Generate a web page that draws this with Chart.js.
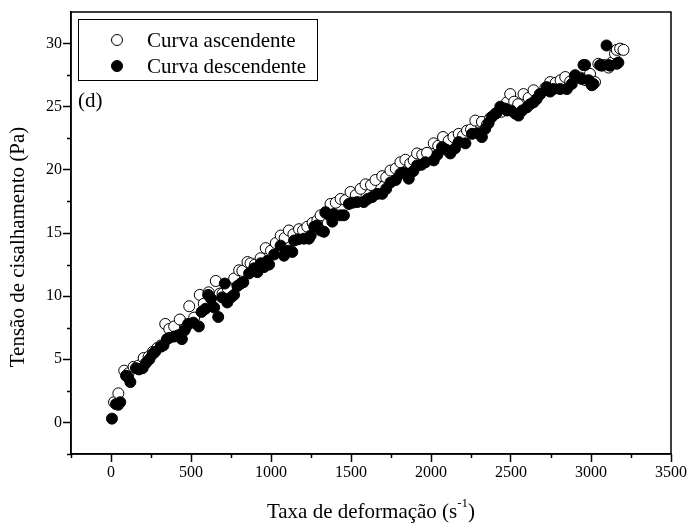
<!DOCTYPE html>
<html>
<head>
<meta charset="utf-8">
<script src="https://cdn.jsdelivr.net/npm/chart.js@4.4.1/dist/chart.umd.min.js"></script>
<style>
    body { margin: 0; background: #fff; }
    canvas { display: block; }
</style>
</head>
<body>
<canvas id="flowChart" width="690" height="524"></canvas>
<script>
/****************************** Data ********************************/
// curva ascendente (open circles)
const ascX = [19, 46, 83, 110, 141, 172, 204, 235, 262, 290, 312, 339, 364, 395, 430, 467, 489, 520, 555, 580,
    610, 655, 680, 697, 730, 770, 801, 821, 853, 872, 900, 935, 967, 1000, 1030, 1061, 1085, 1112, 1140, 1175,
    1200, 1227, 1260, 1290, 1310, 1340, 1372, 1405, 1435, 1465, 1497, 1530, 1560, 1591, 1625, 1653, 1695, 1720, 1747, 1780,
    1809, 1840, 1870, 1892, 1913, 1945, 1975, 2017, 2045, 2075, 2110, 2140, 2173, 2200, 2225, 2250, 2277, 2318, 2350, 2370,
    2402, 2440, 2475, 2495, 2520, 2545, 2578, 2610, 2641, 2680, 2715, 2745, 2780, 2810, 2839, 2870, 2900, 2935, 2965, 2994,
    3025, 3046, 3080, 3110, 3130, 3150, 3161, 3182, 3203];
const ascY = [1.6, 2.3, 4.1, 3.9, 4.4, 4.5, 5.1, 5.2, 5.6, 5.9, 6.1, 7.8, 7.4, 7.6, 8.15, 7.5, 9.2, 8.3, 10.1, 9.4,
    10.3, 11.2, 10.2, 10.2, 10.6, 11.4, 12.05, 12.0, 12.7, 12.6, 12.5, 13.0, 13.8, 13.6, 14.2, 14.8, 14.6, 15.2, 14.9, 15.3,
    15.2, 15.5, 15.8, 16.0, 16.4, 16.6, 17.3, 17.4, 17.7, 17.6, 18.25, 18.0, 18.5, 18.85, 18.8, 19.2, 19.5, 19.4, 19.95, 20.1,
    20.6, 20.8, 20.5, 20.75, 21.3, 21.2, 21.35, 22.1, 21.9, 22.6, 22.3, 22.6, 22.85, 22.7, 23.1, 23.2, 23.9, 23.8, 23.6, 24.1,
    24.45, 24.6, 25.35, 26.0, 25.4, 25.2, 26.0, 25.7, 26.3, 26.0, 26.5, 26.95, 26.9, 27.1, 27.35, 27.0, 27.4, 27.3, 27.1, 27.6,
    26.95, 28.4, 28.3, 28.1, 28.5, 29.2, 29.5, 29.6, 29.5];

// curva descendente (filled circles)
const descX = [6, 31, 45, 58, 94, 105, 121, 156, 175, 198, 218, 240, 260, 276, 312, 328, 350, 364, 395, 420,
    443, 460, 482, 515, 549, 566, 590, 607, 625, 645, 670, 695, 711, 727, 750, 769, 790, 811, 827, 863,
    894, 915, 936, 956, 978, 988, 1020, 1060, 1081, 1110, 1133, 1144, 1170, 1206, 1237, 1248, 1270, 1289, 1310, 1331,
    1341, 1365, 1383, 1393, 1435, 1456, 1487, 1510, 1539, 1580, 1605, 1632, 1665, 1695, 1720, 1747, 1780, 1809, 1830, 1861,
    1890, 1913, 1940, 1965, 2017, 2040, 2069, 2095, 2121, 2150, 2173, 2215, 2256, 2290, 2318, 2339, 2360, 2381, 2410, 2433,
    2464, 2475, 2500, 2527, 2547, 2570, 2599, 2620, 2641, 2660, 2683, 2724, 2745, 2766, 2807, 2849, 2880, 2901, 2942, 2953,
    2963, 2985, 3005, 3015, 3057, 3067, 3097, 3109, 3119, 3161, 3171];
const descY = [0.3, 1.45, 1.4, 1.6, 3.7, 3.6, 3.2, 4.3, 4.2, 4.3, 4.7, 5.0, 5.4, 5.6, 6.0, 6.1, 6.6, 6.7, 6.8, 6.9,
    6.6, 7.3, 7.8, 7.9, 7.6, 8.75, 9.0, 10.1, 9.8, 9.1, 8.35, 9.9, 11.0, 9.5, 9.9, 10.1, 10.8, 11.0, 11.1, 11.8,
    12.2, 11.9, 12.6, 12.3, 12.8, 12.5, 13.3, 14.0, 13.2, 13.6, 13.5, 14.4, 14.5, 14.55, 14.55, 14.8, 15.5, 15.6, 15.2, 15.1,
    16.65, 16.4, 15.9, 16.5, 16.4, 16.4, 17.3, 17.4, 17.45, 17.45, 17.7, 17.85, 18.1, 18.1, 18.5, 19.0, 19.2, 19.7, 19.8, 19.3,
    19.9, 20.35, 20.4, 20.6, 20.75, 21.2, 21.8, 21.6, 21.3, 21.7, 22.2, 22.1, 22.85, 22.9, 22.6, 23.25, 23.7, 24.2, 24.5, 25.0,
    24.85, 24.7, 24.7, 24.45, 24.3, 24.7, 24.95, 25.2, 25.35, 25.6, 26.0, 26.55, 26.2, 26.4, 26.4, 26.4, 26.8, 27.5, 27.2, 28.3,
    28.3, 27.1, 26.7, 26.8, 28.3, 28.25, 29.85, 28.3, 28.25, 28.4, 28.5];

// axis ticks
const xTicks = [0, 500, 1000, 1500, 2000, 2500, 3000, 3500];
const xMinorTicks = [-250, 250, 750, 1250, 1750, 2250, 2750, 3250];
const yTicks = [0, 5, 10, 15, 20, 25, 30];
const yMinorTicks = [-2.5, 2.5, 7.5, 12.5, 17.5, 22.5, 27.5];

const toPoints = (xs, ys) => xs.map((x, i) => ({ x: x, y: ys[i] }));

/****************************** Frame, legend, titles ********************************/
const SERIF = '"Liberation Serif", "Times New Roman", serif';

const decorPlugin = {
    id: 'decor',
    afterDraw(chart) {
        const { ctx, chartArea: a, scales } = chart;
        const xs = scales.x, ys = scales.y;
        ctx.save();

        // box round the plot
        ctx.strokeStyle = '#000';
        ctx.lineWidth = 1.5;
        ctx.strokeRect(a.left, a.top, a.right - a.left, a.bottom - a.top);

        // minor ticks (half length)
        ctx.lineWidth = 1.5;
        ctx.beginPath();
        xMinorTicks.forEach(v => {
            const px = Math.round(xs.getPixelForValue(v)) + 0.5;
            ctx.moveTo(px, a.bottom);
            ctx.lineTo(px, a.bottom + 4);
        });
        yMinorTicks.forEach(v => {
            const py = Math.round(ys.getPixelForValue(v)) + 0.5;
            ctx.moveTo(a.left, py);
            ctx.lineTo(a.left - 4, py);
        });
        ctx.stroke();

        // legend
        ctx.lineWidth = 1;
        ctx.strokeRect(78.5, 19.5, 239, 61);
        ctx.font = '21px ' + SERIF;
        ctx.fillStyle = '#000';
        ctx.textBaseline = 'middle';
        ctx.textAlign = 'left';
        const rows = [40, 66];
        chart.data.datasets.forEach((ds, i) => {
            ctx.beginPath();
            ctx.arc(117, rows[i], 5.5, 0, Math.PI * 2);
            ctx.fillStyle = ds.backgroundColor;
            ctx.fill();
            ctx.strokeStyle = ds.borderColor;
            ctx.stroke();
            ctx.fillStyle = '#000';
            ctx.fillText(ds.label, 147, rows[i] + 1);
        });

        // panel letter
        ctx.fillText('(d)', 78, 101);

        // x title with superscript
        const main = 'Taxa de deformação (s';
        const sup = '-1';
        const tail = ')';
        ctx.font = '21px ' + SERIF;
        const wMain = ctx.measureText(main).width;
        const wTail = ctx.measureText(tail).width;
        ctx.font = '13px ' + SERIF;
        const wSup = ctx.measureText(sup).width;
        let tx = (a.left + a.right) / 2 - (wMain + wSup + wTail) / 2;
        const ty = 512;
        ctx.font = '21px ' + SERIF;
        ctx.fillText(main, tx, ty);
        tx += wMain;
        ctx.font = '13px ' + SERIF;
        ctx.fillText(sup, tx, ty - 8);
        tx += wSup;
        ctx.font = '21px ' + SERIF;
        ctx.fillText(tail, tx, ty);

        // y title
        ctx.translate(18, 247);
        ctx.rotate(-Math.PI / 2);
        ctx.textAlign = 'center';
        ctx.fillText('Tensão de cisalhamento (Pa)', 0, 0);

        ctx.restore();
    }
};

/****************************** Flow curve chart ********************************/
const axisStyle = {
    border: { color: '#000', width: 1.5 },
    grid: {
        drawOnChartArea: false,
        drawTicks: true,
        tickLength: 8,
        tickColor: '#000',
        tickWidth: 1.5
    },
    ticks: {
        color: '#000',
        font: { family: SERIF, size: 16 },
        padding: 1,
        maxRotation: 0,
        autoSkip: false,
        callback: v => String(v)
    }
};

new Chart(document.getElementById('flowChart'), {
    type: 'scatter',
    data: {
        datasets: [{
            label: 'Curva ascendente',
            data: toPoints(ascX, ascY),
            backgroundColor: '#fff',
            borderColor: '#000',
            borderWidth: 1,
            pointRadius: 5.5,
            order: 1
        }, {
            label: 'Curva descendente',
            data: toPoints(descX, descY),
            backgroundColor: '#000',
            borderColor: '#000',
            borderWidth: 1,
            pointRadius: 5.5,
            order: 0
        }]
    },
    plugins: [decorPlugin],
    options: {
        responsive: false,
        animation: false,
        devicePixelRatio: 1,
        layout: { padding: { top: 12, right: 19, left: 0, bottom: 0 } },
        plugins: {
            legend: { display: false },
            tooltip: { enabled: false }
        },
        scales: {
            x: {
                ...axisStyle,
                type: 'linear',
                min: -250,
                max: 3500,
                afterBuildTicks: scale => { scale.ticks = xTicks.map(v => ({ value: v })); },
                afterFit: scale => { scale.height = 70; }
            },
            y: {
                ...axisStyle,
                type: 'linear',
                min: -2.5,
                max: 32.5,
                afterBuildTicks: scale => { scale.ticks = yTicks.map(v => ({ value: v })); },
                afterFit: scale => { scale.width = 71; }
            }
        }
    }
});
</script>
</body>
</html>
